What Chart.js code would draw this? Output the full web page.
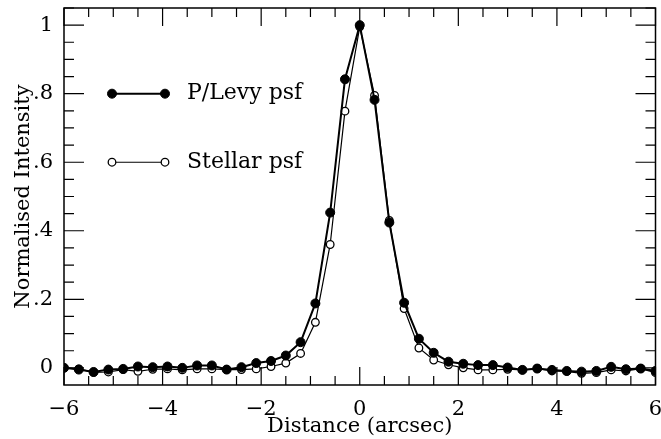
<!DOCTYPE html>
<html>
<head>
<meta charset="utf-8">
<script src="https://cdn.jsdelivr.net/npm/chart.js@4.4.1/dist/chart.umd.min.js"></script>
<style>
  html, body { margin: 0; padding: 0; background: #fff; }
  #wrap { width: 661px; height: 439px; position: relative; }
</style>
</head>
<body>
<div id="wrap"><canvas id="psfChart"></canvas></div>
<script>
// Distancia (arcsec) de cada punto del perfil
const distance = [
  -6.0, -5.7, -5.4, -5.1, -4.8, -4.5, -4.2, -3.9, -3.6, -3.3, -3.0,
  -2.7, -2.4, -2.1, -1.8, -1.5, -1.2, -0.9, -0.6, -0.3, 0.0,
  0.3, 0.6, 0.9, 1.2, 1.5, 1.8, 2.1, 2.4, 2.7, 3.0,
  3.3, 3.6, 3.9, 4.2, 4.5, 4.8, 5.1, 5.4, 5.7, 6.0
];

// P/Levy psf (puntos rellenos)
const levyPsf = [
  0.000, -0.005, -0.012, -0.005, -0.003, 0.004, 0.002, 0.004, 0.000, 0.007, 0.007,
  -0.005, 0.002, 0.014, 0.020, 0.036, 0.075, 0.188, 0.453, 0.842, 1.000,
  0.782, 0.424, 0.190, 0.085, 0.044, 0.018, 0.012, 0.008, 0.008, 0.001,
  -0.006, -0.002, -0.006, -0.009, -0.011, -0.009, 0.003, -0.004, -0.002, -0.009
];

// Stellar psf (puntos abiertos)
const stellarPsf = [
  0.000, -0.003, -0.013, -0.012, -0.005, -0.010, -0.004, -0.003, -0.006, -0.003, -0.003,
  -0.005, -0.005, -0.003, 0.004, 0.014, 0.042, 0.133, 0.360, 0.749, 0.995,
  0.795, 0.430, 0.173, 0.058, 0.023, 0.009, 0.000, -0.006, -0.006, -0.004,
  -0.006, -0.002, -0.009, -0.010, -0.016, -0.014, -0.006, -0.009, -0.002, -0.014
];

const seriesNames = ["P/Levy psf", "Stellar psf"];
const xTickValues = [-6, -4, -2, 0, 2, 4, 6];
const yTickValues = [0, 0.2, 0.4, 0.6, 0.8, 1];
const yTickLabels = ["0", ".2", ".4", ".6", ".8", "1"];

const FONT = "'DejaVu Serif', serif";
const FSIZE = 21;

const toPoints = (ys) => distance.map((x, i) => ({ x: x, y: ys[i] }));

// quitar el relleno automático que Chart.js deja para las etiquetas
const noPad = (s) => {
  s.paddingTop = 0; s.paddingBottom = 0;
  s.paddingLeft = 0; s.paddingRight = 0;
};

// Marco, marcas hacia dentro y leyenda dentro del área
const frameAndLegend = {
  id: "frameAndLegend",
  afterDraw(chart) {
    const { ctx, chartArea: a, scales: { x, y } } = chart;
    ctx.save();
    ctx.strokeStyle = "#000";
    ctx.lineWidth = 1.5;
    ctx.strokeRect(a.left, a.top, a.width, a.height);

    ctx.lineWidth = 1.2;
    ctx.beginPath();
    for (let i = -12; i <= 12; i++) {
      const px = x.getPixelForValue(i * 0.5);
      const len = i % 4 === 0 ? 18 : 9;
      ctx.moveTo(px, a.bottom); ctx.lineTo(px, a.bottom - len);
      ctx.moveTo(px, a.top); ctx.lineTo(px, a.top + len);
    }
    for (let i = 0; i <= 21; i++) {
      const py = y.getPixelForValue(i * 0.05);
      const len = i % 4 === 0 ? 20 : 10;
      ctx.moveTo(a.left, py); ctx.lineTo(a.left + len, py);
      ctx.moveTo(a.right, py); ctx.lineTo(a.right - len, py);
    }
    ctx.stroke();

    // leyenda
    const ds = chart.data.datasets;
    const x0 = a.left + 48, x1 = a.left + 101, tx = a.left + 123;
    const rows = [y.getPixelForValue(0.8), y.getPixelForValue(0.6)];
    ds.forEach((d, i) => {
      const yy = rows[i];
      ctx.beginPath();
      ctx.lineWidth = d.borderWidth;
      ctx.moveTo(x0, yy); ctx.lineTo(x1, yy);
      ctx.stroke();
      [x0, x1].forEach((cx) => {
        ctx.beginPath();
        ctx.arc(cx, yy, d.pointRadius, 0, Math.PI * 2);
        ctx.fillStyle = d.pointBackgroundColor;
        ctx.fill();
        ctx.lineWidth = d.pointBorderWidth;
        ctx.stroke();
      });
      ctx.fillStyle = "#000";
      ctx.font = "22px " + FONT;
      ctx.textBaseline = "middle";
      ctx.textAlign = "left";
      ctx.fillText(d.label, tx, yy);
    });
    ctx.restore();
  }
};

const ctx = document.getElementById("psfChart").getContext("2d");
const chart = new Chart(ctx, {
  type: "line",
  data: {
    datasets: [
      {
        label: seriesNames[0],
        data: toPoints(levyPsf),
        borderColor: "#000",
        borderWidth: 2,
        pointRadius: 4.5,
        pointBackgroundColor: "#000",
        pointBorderColor: "#000",
        pointBorderWidth: 1,
        tension: 0
      },
      {
        label: seriesNames[1],
        data: toPoints(stellarPsf),
        borderColor: "#000",
        borderWidth: 1.2,
        pointRadius: 3.8,
        pointBackgroundColor: "#fff",
        pointBorderColor: "#000",
        pointBorderWidth: 1.3,
        tension: 0
      }
    ]
  },
  options: {
    responsive: true,
    maintainAspectRatio: false,
    animation: false,
    layout: { padding: { left: 0, top: 8, right: 4, bottom: 0 } },
    plugins: {
      legend: { display: false },
      tooltip: { enabled: false }
    },
    scales: {
      x: {
        type: "linear",
        min: -6,
        max: 6,
        grid: { display: false, drawTicks: false },
        border: { display: false },
        afterFit: (s) => { s.height = 54; noPad(s); },
        afterBuildTicks: (s) => { s.ticks = xTickValues.map((v) => ({ value: v })); },
        ticks: {
          padding: 12,
          color: "#000",
          font: { family: FONT, size: FSIZE },
          maxRotation: 0,
          callback: (v) => (v < 0 ? "\u2212" + Math.abs(v) : String(v))
        },
        title: {
          display: true,
          text: "Distance (arcsec)",
          color: "#000",
          font: { family: FONT, size: FSIZE },
          padding: { top: 0, bottom: 0 }
        }
      },
      y: {
        type: "linear",
        min: -0.05,
        max: 1.05,
        grid: { display: false, drawTicks: false },
        border: { display: false },
        afterFit: (s) => { s.width = 64; noPad(s); },
        afterBuildTicks: (s) => { s.ticks = yTickValues.map((v) => ({ value: v })); },
        ticks: {
          padding: 11,
          color: "#000",
          font: { family: FONT, size: FSIZE },
          callback: (v) => yTickLabels[yTickValues.findIndex((t) => Math.abs(t - v) < 1e-6)]
        },
        title: {
          display: true,
          text: "Normalised Intensity",
          color: "#000",
          font: { family: FONT, size: FSIZE },
          padding: { top: 11, bottom: 0 }
        }
      }
    }
  },
  plugins: [frameAndLegend]
});
</script>
</body>
</html>
